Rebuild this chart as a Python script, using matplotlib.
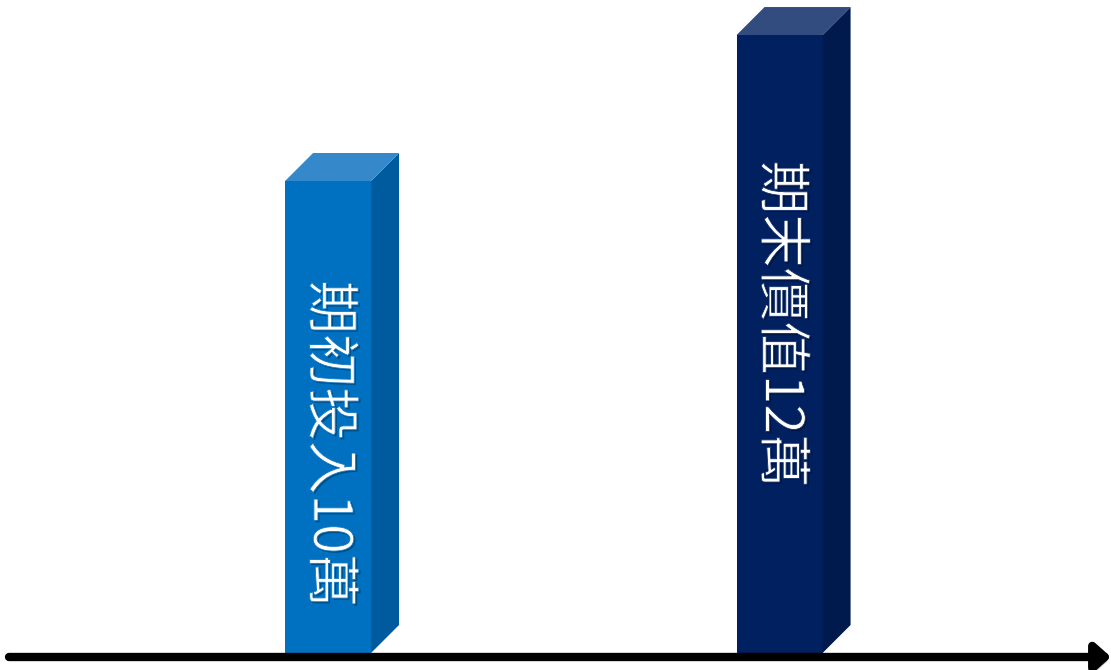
import matplotlib
matplotlib.use('Agg')
import matplotlib.pyplot as plt
import matplotlib.patches as patches
import matplotlib.patheffects as pe

plt.rcParams['font.family'] = ['Noto Sans CJK TC', 'DejaVu Sans']

# 資料
categories = ['期初投入', '期末價值']
values = [10, 12]          # 萬
unit = '萬'
front_colors = ['#0070C0', '#002060']
side_colors = ['#005A9E', '#001A4E']
top_colors = ['#3589CB', '#334C7F']
label_frac = [0.443, 0.532]   # 文字中心在柱高中的位置

fig = plt.figure(figsize=(11.11, 6.70), dpi=100)
ax = fig.add_axes([0, 0, 1, 1])
ax.set_xlim(-0.7265, 1.734)
ax.set_ylim(3.30, 12.48)
ax.axis('off')

# 每資料單位對應的像素
px_x = 1111 / (1.734 + 0.7265)
px_y = 670 / (12.48 - 3.30)
baseline = 3.30 + 17 / px_y
width = 86 / px_x
dx = 28 / px_x
dy = 28 / px_y

for i, (cat, v) in enumerate(zip(categories, values)):
    left = i - width / 2
    right = i + width / 2
    # 正面
    ax.add_patch(patches.Rectangle((left, baseline), width, v - baseline,
                                   facecolor=front_colors[i], edgecolor='none', zorder=2))
    # 側面
    ax.add_patch(patches.Polygon([(right, baseline), (right + dx, baseline + dy),
                                  (right + dx, v + dy), (right, v)],
                                 closed=True, facecolor=side_colors[i], edgecolor='none', zorder=2))
    # 頂面
    ax.add_patch(patches.Polygon([(left, v), (right, v), (right + dx, v + dy), (left + dx, v + dy)],
                                 closed=True, facecolor=top_colors[i], edgecolor='none', zorder=2))
    # 直排文字（以柱色細描邊讓筆畫略細）
    ty = baseline + (v - baseline) * label_frac[i]
    ax.text(i + 0.003, ty, f'{cat}{v}{unit}', rotation=270,
            ha='center', va='center', color='white', fontsize=38.5, zorder=4,
            path_effects=[pe.SimplePatchShadow(offset=(1.2, -1.2), shadow_rgbFace='black', alpha=0.3),
                          pe.Normal(),
                          pe.Stroke(linewidth=0.6, foreground=front_colors[i])])

# 底部箭頭軸
axis_y = 13 / 670
ax.annotate('', xy=(1.0, axis_y), xytext=(9 / 1111, axis_y),
            xycoords='axes fraction', textcoords='axes fraction',
            arrowprops=dict(arrowstyle='-|>,head_length=0.45,head_width=0.4', lw=6,
                            color='black', mutation_scale=20, shrinkA=0, shrinkB=0,
                            path_effects=[pe.withSimplePatchShadow(offset=(2, -3), shadow_rgbFace='gray', alpha=0.5)]),
            zorder=3)

plt.savefig('out.png', dpi=100)
plt.close()
